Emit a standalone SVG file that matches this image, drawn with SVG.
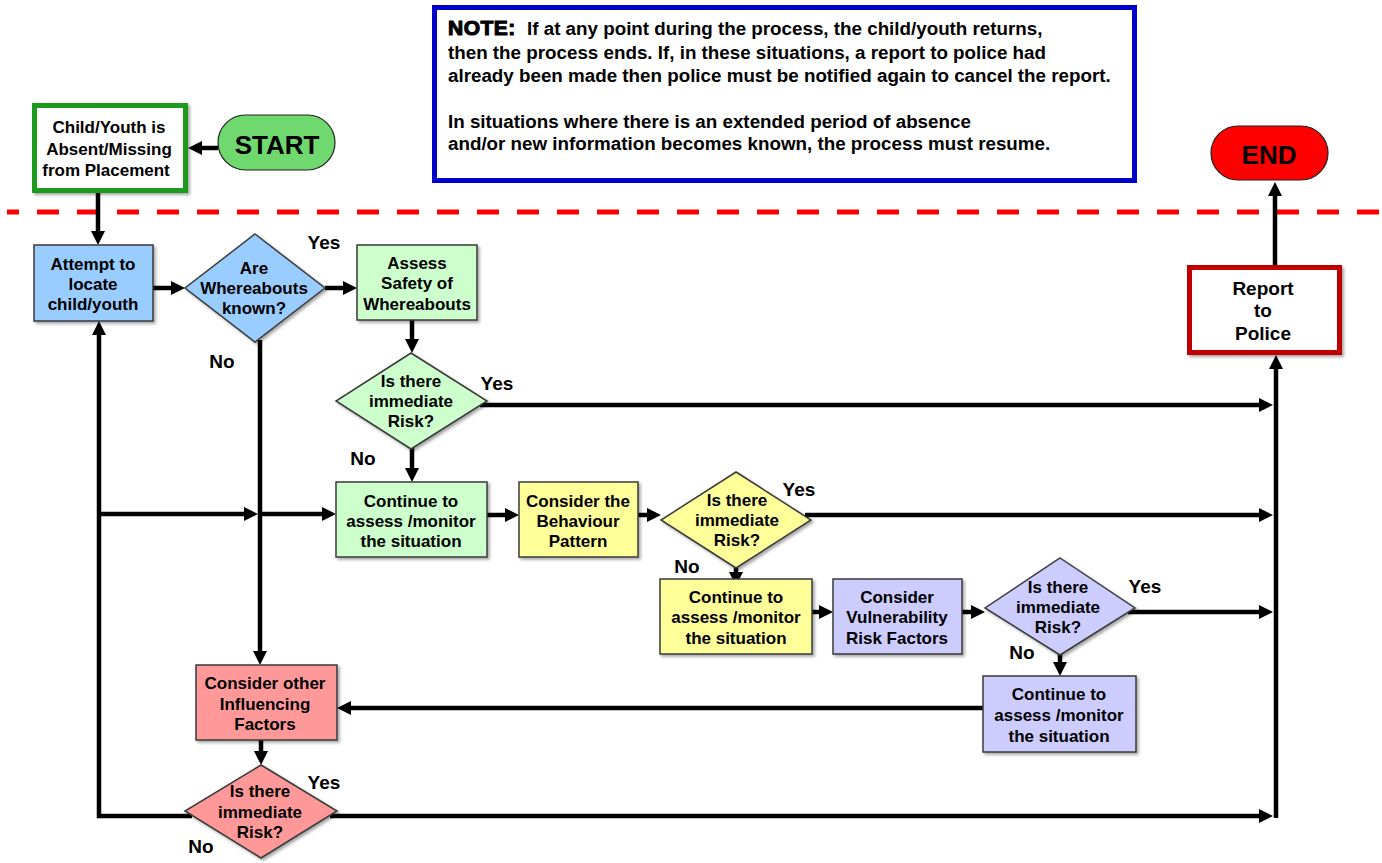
<svg xmlns="http://www.w3.org/2000/svg" width="1382" height="863" viewBox="0 0 1382 863">
<style>
text{font-family:"Liberation Sans",Arial,sans-serif;font-weight:bold;fill:#000}
.t{font-size:17px;text-anchor:middle}
.lbl{font-size:19px;text-anchor:middle}
.note{font-size:18.8px}
.node{stroke:#3a3a3a;stroke-width:1.5;filter:url(#sh)}
.blue{fill:#99ccff}.green{fill:#ccffcc}.yellow{fill:#ffff99}.lav{fill:#ccccff}.pink{fill:#ff9999}
.c{fill:none;stroke:#000;stroke-width:4.5;marker-end:url(#ah)}
.cn{fill:none;stroke:#000;stroke-width:4.5}
</style>
<defs>
<filter id="sh" x="-10%" y="-10%" width="130%" height="130%">
<feDropShadow dx="2" dy="2" stdDeviation="1.5" flood-color="#000" flood-opacity="0.35"/>
</filter>
<marker id="ah" viewBox="0 0 14 14" refX="6" refY="7" markerWidth="14" markerHeight="14" markerUnits="userSpaceOnUse" orient="auto">
<path d="M0,0 L14,7 L0,14 z" fill="#000"/>
</marker>
</defs>
<rect width="1382" height="863" fill="#fff"/>

<path d="M7,212 H1382" stroke="#ff0000" stroke-width="5" stroke-dasharray="22 18" stroke-dashoffset="10" fill="none"/>

<g id="connectors">
<path class="c" d="M218,148 H196"/>
<path class="c" d="M98,193 V237"/>
<path class="c" d="M153,288 H177"/>
<path class="c" d="M325,288 H349"/>
<path class="c" d="M412,320 V345"/>
<path class="c" d="M480,405 H1265"/>
<path class="c" d="M412,448 V474"/>
<path class="c" d="M487,515 H511"/>
<path class="c" d="M638,515 H653"/>
<path class="c" d="M805,515 H1265"/>
<path class="c" d="M736,566 V578"/>
<path class="c" d="M812,612 H825"/>
<path class="c" d="M962,612 H977"/>
<path class="c" d="M1128,612 H1265"/>
<path class="c" d="M1060,654 V668"/>
<path class="c" d="M983,708 H345"/>
<path class="c" d="M260,340 V657"/>
<path class="c" d="M261,740 V757"/>
<path class="c" d="M330,816 H1265"/>
<path class="c" d="M192,816 H99 V329"/>
<path class="c" d="M99,514 H250"/>
<path class="c" d="M260,514 H328"/>
<path class="c" d="M1276,818 V363"/>
<path class="c" d="M1275,265 V190"/>
</g>

<g id="note">
<rect x="434.5" y="7.5" width="700" height="173" fill="#fff" stroke="#0000cc" stroke-width="5"/>
<text x="448" y="35" style="font-size:21px" stroke="#000" stroke-width="1.1" letter-spacing="0.5">NOTE:</text>
<text class="note" x="527" y="35">If at any point during the process, the child/youth returns,</text>
<text class="note" x="448" y="59">then the process ends. If, in these situations, a report to police had</text>
<text class="note" x="448" y="82">already been made then police must be notified again to cancel the report.</text>
<text class="note" x="448" y="128">In situations where there is an extended period of absence</text>
<text class="note" x="448" y="150">and/or new information becomes known, the process must resume.</text>
</g>

<g id="start">
<rect x="218" y="115" width="117" height="55" rx="27.5" fill="#6fd86f" stroke="#222" stroke-width="1.2"/>
<text x="277" y="154" style="font-size:26px;text-anchor:middle">START</text>
</g>

<g id="end">
<rect x="1211" y="126" width="117" height="54" rx="27" fill="#ff0000" stroke="#222" stroke-width="1.2"/>
<text x="1269" y="164" style="font-size:26px;text-anchor:middle">END</text>
</g>

<g id="absent">
<rect x="34.5" y="105.5" width="151" height="85" fill="#fff" stroke="#1a9a1a" stroke-width="5" filter="url(#sh)"/>
<text class="t" x="109" y="133">Child/Youth is</text>
<text class="t" x="109" y="155">Absent/Missing</text>
<text class="t" x="106" y="176">from Placement</text>
</g>

<g id="attempt">
<rect class="node blue" x="34" y="245" width="119" height="76"/>
<text class="t" x="93" y="270">Attempt to</text>
<text class="t" x="93" y="290">locate</text>
<text class="t" x="93" y="310">child/youth</text>
</g>

<g id="whereabouts">
<polygon class="node blue" points="255,234 325,288 255,342 185,288"/>
<text class="t" x="254" y="274">Are</text>
<text class="t" x="254" y="294">Whereabouts</text>
<text class="t" x="254" y="314">known?</text>
</g>

<g id="assess">
<rect class="node green" x="357" y="245" width="120" height="75"/>
<text class="t" x="417" y="269">Assess</text>
<text class="t" x="417" y="289">Safety of</text>
<text class="t" x="417" y="310">Whereabouts</text>
</g>

<g id="risk1">
<polygon class="node green" points="411,353 487,401 411,449 336,401"/>
<text class="t" x="411" y="387">Is there</text>
<text class="t" x="411" y="407">immediate</text>
<text class="t" x="411" y="427">Risk?</text>
</g>

<g id="continue1">
<rect class="node green" x="336" y="482" width="151" height="75"/>
<text class="t" x="411" y="507">Continue to</text>
<text class="t" x="411" y="527">assess /monitor</text>
<text class="t" x="411" y="547">the situation</text>
</g>

<g id="behaviour">
<rect class="node yellow" x="519" y="482" width="119" height="75"/>
<text class="t" x="578" y="507">Consider the</text>
<text class="t" x="578" y="527">Behaviour</text>
<text class="t" x="578" y="547">Pattern</text>
</g>

<g id="risk2">
<polygon class="node yellow" points="736,472 811,520 736,568 661,520"/>
<text class="t" x="737" y="506">Is there</text>
<text class="t" x="737" y="526">immediate</text>
<text class="t" x="737" y="546">Risk?</text>
</g>

<g id="continue2">
<rect class="node yellow" x="660" y="579" width="152" height="75"/>
<text class="t" x="736" y="603">Continue to</text>
<text class="t" x="736" y="623">assess /monitor</text>
<text class="t" x="736" y="644">the situation</text>
</g>

<g id="vulnerability">
<rect class="node lav" x="833" y="579" width="129" height="75"/>
<text class="t" x="897" y="603">Consider</text>
<text class="t" x="897" y="623">Vulnerability</text>
<text class="t" x="897" y="644">Risk Factors</text>
</g>

<g id="risk3">
<polygon class="node lav" points="1060,558 1135,608 1060,655 985,608"/>
<text class="t" x="1058" y="593">Is there</text>
<text class="t" x="1058" y="613">immediate</text>
<text class="t" x="1058" y="633">Risk?</text>
</g>

<g id="continue3">
<rect class="node lav" x="983" y="676" width="153" height="76"/>
<text class="t" x="1059" y="700">Continue to</text>
<text class="t" x="1059" y="721">assess /monitor</text>
<text class="t" x="1059" y="742">the situation</text>
</g>

<g id="influencing">
<rect class="node pink" x="196" y="665" width="141" height="75"/>
<text class="t" x="265" y="689">Consider other</text>
<text class="t" x="265" y="710">Influencing</text>
<text class="t" x="265" y="730">Factors</text>
</g>

<g id="risk4">
<polygon class="node pink" points="261,765 337,811 261,858 185,811"/>
<text class="t" x="260" y="797">Is there</text>
<text class="t" x="260" y="818">immediate</text>
<text class="t" x="260" y="838">Risk?</text>
</g>

<g id="report">
<rect x="1189.5" y="267.5" width="150" height="85" fill="#fff" stroke="#c00000" stroke-width="5" filter="url(#sh)"/>
<text class="lbl" x="1263" y="295">Report</text>
<text class="lbl" x="1263" y="317">to</text>
<text class="lbl" x="1263" y="340">Police</text>
</g>

<g id="labels">
<text class="lbl" x="324" y="249">Yes</text>
<text class="lbl" x="222" y="368">No</text>
<text class="lbl" x="497" y="390">Yes</text>
<text class="lbl" x="363" y="465">No</text>
<text class="lbl" x="799" y="496">Yes</text>
<text class="lbl" x="687" y="573">No</text>
<text class="lbl" x="1145" y="593">Yes</text>
<text class="lbl" x="1022" y="659">No</text>
<text class="lbl" x="324" y="789">Yes</text>
<text class="lbl" x="201" y="853">No</text>
</g>
</svg>
